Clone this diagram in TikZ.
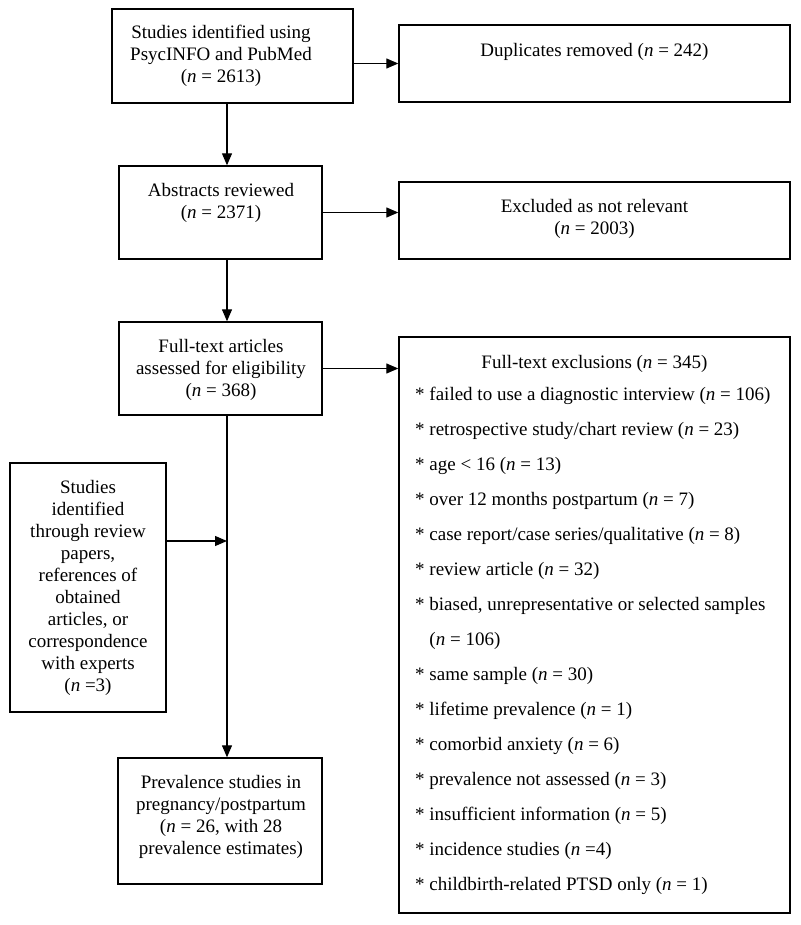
\documentclass[tikz,border=0pt]{standalone}
\usepackage{fontspec}
\setmainfont{Liberation Serif}
\usetikzlibrary{arrows.meta,positioning}

\begin{document}
\begin{tikzpicture}[x=1pt,y=-1pt,
  box/.style={draw, line width=1.4pt, inner sep=0pt},
  txt/.style={inner sep=0pt, align=center, font=\fontsize{19}{22}\selectfont},
  items/.style={inner sep=0pt, align=left, anchor=north west, font=\fontsize{19}{35}\selectfont},
  flow/.style={line width=1.2pt, -{Triangle[length=12pt,width=10pt]}}]
\useasboundingbox (0,0) rectangle (800,925);
% main column and text axis
\coordinate (spine) at (227,0);
\coordinate (mid) at (221,0);
\coordinate (join) at (227,541);
\coordinate (bullet) at (415,0);
% LEFT COLUMN
\node[box, minimum width=241pt, minimum height=94pt] (src) at (232.5,56) {};
\node[txt, below=17pt] at (src.north -| mid) {Studies identified using\\PsycINFO and PubMed\\(\textit{n} = 2613)};
\node[box, minimum width=203pt, minimum height=93pt] (abs) at (220.5,212.5) {};
\node[txt, below=18pt] at (abs.north -| mid) {Abstracts reviewed\\(\textit{n} = 2371)};
\node[box, minimum width=203pt, minimum height=93pt] (full) at (220.5,368.5) {};
\node[txt, below=18pt] at (full.north -| mid) {Full-text articles\\assessed for eligibility\\(\textit{n} = 368)};
\node[box, minimum width=204pt, minimum height=126pt] (prev) at (220,821) {};
\node[txt, below=18pt] at (prev.north -| mid) {Prevalence studies in\\pregnancy/postpartum\\(\textit{n} = 26, with 28\\prevalence estimates)};
\node[box, minimum width=156pt, minimum height=249pt] (other) at (88,587.5) {};
\node[txt, below=18pt] at (other.north) {Studies\\identified\\through review\\papers,\\references of\\obtained\\articles, or\\correspondence\\with experts\\(\textit{n} =3)};
% RIGHT COLUMN
\node[box, minimum width=391pt, minimum height=77pt] (dup) at (594.5,63.5) {};
\node[txt, below=19pt] at (dup.north) {Duplicates removed (\textit{n} = 242)};
\node[box, minimum width=391pt, minimum height=77pt] (excl) at (594.5,220.5) {};
\node[txt, below=18pt] at (excl.north) {Excluded as not relevant\\(\textit{n} = 2003)};
\node[box, minimum width=391pt, minimum height=576pt] (ftex) at (594.5,625) {};
\node[txt, below=19pt] at (ftex.north) {Full-text exclusions (\textit{n} = 345)};
\node[items, yshift=-51pt] at (ftex.north -| bullet) {%
* failed to use a diagnostic interview (\textit{n} = 106)\\
* retrospective study/chart review (\textit{n} = 23)\\
* age < 16 (\textit{n} = 13)\\
* over 12 months postpartum (\textit{n} = 7)\\
* case report/case series/qualitative (\textit{n} = 8)\\
* review article (\textit{n} = 32)\\
* biased, unrepresentative or selected samples\\
\phantom{* }(\textit{n} = 106)\\
* same sample (\textit{n} = 30)\\
* lifetime prevalence (\textit{n} = 1)\\
* comorbid anxiety (\textit{n} = 6)\\
* prevalence not assessed (\textit{n} = 3)\\
* insufficient information (\textit{n} = 5)\\
* incidence studies (\textit{n} =4)\\
* childbirth-related PTSD only (\textit{n} = 1)};
% CONNECTORS
\draw[flow] (src.south -| spine) -- (abs.north -| spine);
\draw[flow] (abs.south -| spine) -- (full.north -| spine);
\draw[flow] (full.south -| spine) -- (prev.north -| spine);
\draw[flow] (src.east |- dup.west) -- (dup.west);
\draw[flow] (abs.east) -- (abs.east -| excl.west);
\draw[flow] (full.east) -- (full.east -| ftex.west);
\draw[flow] (other.east |- join) -- (join);
\end{tikzpicture}
\end{document}
